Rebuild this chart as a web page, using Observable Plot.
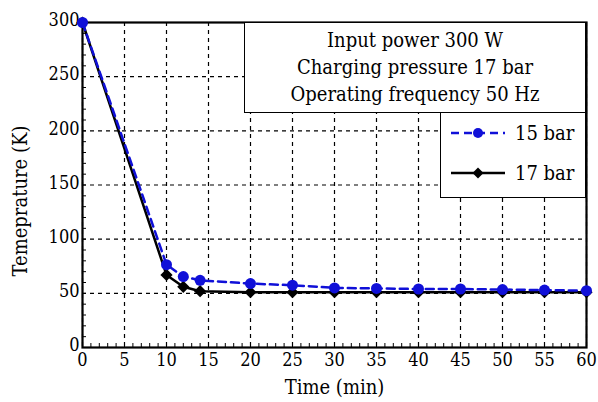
<!DOCTYPE html>
<html>
<head>
<meta charset="utf-8">
<script src="https://cdn.jsdelivr.net/npm/d3@7"></script>
<script src="https://cdn.jsdelivr.net/npm/@observablehq/plot@0.6"></script>
<style>
  body { margin: 0; background: #fff; }
  #wrap { position: relative; width: 598px; height: 402px; font-family: "DejaVu Serif Condensed", "DejaVu Serif", serif; font-stretch: condensed; }
  .box { position: absolute; background: #fff; border: 1.5px solid #000; box-sizing: border-box; }
  #info { left: 244px; top: 22px; width: 342px; height: 91px; text-align: center; font-size: 20px; line-height: 27px; padding-top: 4px; }
  #legend { left: 440px; top: 112px; width: 146px; height: 86px; font-size: 20px; }
  .row { position: absolute; left: 8px; display: flex; align-items: center; }
  .row span { margin-left: 8px; }
  svg text { font-stretch: condensed; }
</style>
</head>
<body>
<div id="wrap"></div>
<script>
const times = [0, 10, 12, 14, 20, 25, 30, 35, 40, 45, 50, 55, 60];
const temp15 = [300, 76.5, 65.5, 62, 59, 57.5, 55, 54.5, 54, 54, 53.5, 53, 52.5];
const temp17 = [300, 67, 56, 52, 51, 51, 51, 51, 51, 51, 51, 51, 51];
const xTicks = d3.range(0, 61, 5);
const yTicks = d3.range(0, 301, 50);
const xLabel = "Time (min)";
const yLabel = "Temeprature (K)";
const seriesNames = ["15 bar", "17 bar"];
const infoLines = ["Input power 300 W", "Charging pressure 17 bar", "Operating frequency 50 Hz"];

const d15 = times.map((t, i) => ({t, v: temp15[i]}));
const d17 = times.map((t, i) => ({t, v: temp17[i]}));
const FONT = "'DejaVu Serif Condensed', 'DejaVu Serif', serif";

const chart = Plot.plot({
  width: 598,
  height: 402,
  marginLeft: 82,
  marginRight: 12,
  marginTop: 22,
  marginBottom: 55,
  style: {fontFamily: FONT, fontSize: "18px", color: "#000", background: "#fff"},
  x: {domain: [0, 60], axis: null},
  y: {domain: [0, 300], axis: null},
  marks: [
    Plot.gridX(xTicks, {stroke: "#000", strokeOpacity: 1, strokeDasharray: "4,4", strokeWidth: 1.2}),
    Plot.gridY(yTicks, {stroke: "#000", strokeOpacity: 1, strokeDasharray: "4,4", strokeWidth: 1.2}),
    Plot.axisX(d3.range(0, 61, 1), {tickSize: -4, text: null, strokeWidth: 1, label: null}),
    Plot.axisY(d3.range(0, 301, 10), {tickSize: -4, text: null, strokeWidth: 1, label: null}),
    Plot.axisX(xTicks, {tickSize: 0, tickPadding: 6, fontSize: 18, label: null}),
    Plot.axisY(yTicks, {tickSize: 0, tickPadding: 3, fontSize: 18, label: null, dy: -2}),
    Plot.text([xLabel], {text: d => d, frameAnchor: "bottom", dy: 40, fontSize: 20, lineAnchor: "middle"}),
    Plot.text([yLabel], {text: d => d, frameAnchor: "left", textAnchor: "middle", rotate: -90, dx: -62, dy: 16, fontSize: 20, lineAnchor: "middle"}),
    Plot.frame({stroke: "#000", strokeWidth: 2.2}),
    Plot.line(d17, {x: "t", y: "v", stroke: "#000", strokeWidth: 2.5}),
    Plot.dot(d17, {x: "t", y: "v", symbol: "diamond2", r: 5.5, fill: "#000"}),
    Plot.line(d15, {x: "t", y: "v", stroke: "#1010d8", strokeWidth: 2.5, strokeDasharray: "8,5"}),
    Plot.dot(d15, {x: "t", y: "v", r: 5.5, fill: "#1010d8"})
  ]
});

const wrap = document.getElementById("wrap");
wrap.appendChild(chart);

const info = document.createElement("div");
info.className = "box"; info.id = "info";
info.innerHTML = infoLines.join("<br>");
wrap.appendChild(info);

const leg = document.createElement("div");
leg.className = "box"; leg.id = "legend";
const styles = [
  {stroke: "#1010d8", dash: "8,5", marker: "circle"},
  {stroke: "#000", dash: null, marker: "diamond"}
];
seriesNames.forEach((name, i) => {
  const row = document.createElement("div");
  row.className = "row";
  row.style.top = (i === 0 ? 8 : 48) + "px";
  const s = styles[i];
  const svg = d3.create("svg").attr("width", 58).attr("height", 16);
  svg.append("line").attr("x1", 2).attr("x2", 56).attr("y1", 8).attr("y2", 8)
    .attr("stroke", s.stroke).attr("stroke-width", 2.5).attr("stroke-dasharray", s.dash);
  if (s.marker === "circle") svg.append("circle").attr("cx", 29).attr("cy", 8).attr("r", 5).attr("fill", s.stroke);
  else svg.append("path").attr("d", "M29,2.5L34.5,8L29,13.5L23.5,8Z").attr("fill", s.stroke);
  row.appendChild(svg.node());
  const sp = document.createElement("span");
  sp.textContent = name;
  row.appendChild(sp);
  leg.appendChild(row);
});
wrap.appendChild(leg);
</script>
</body>
</html>
